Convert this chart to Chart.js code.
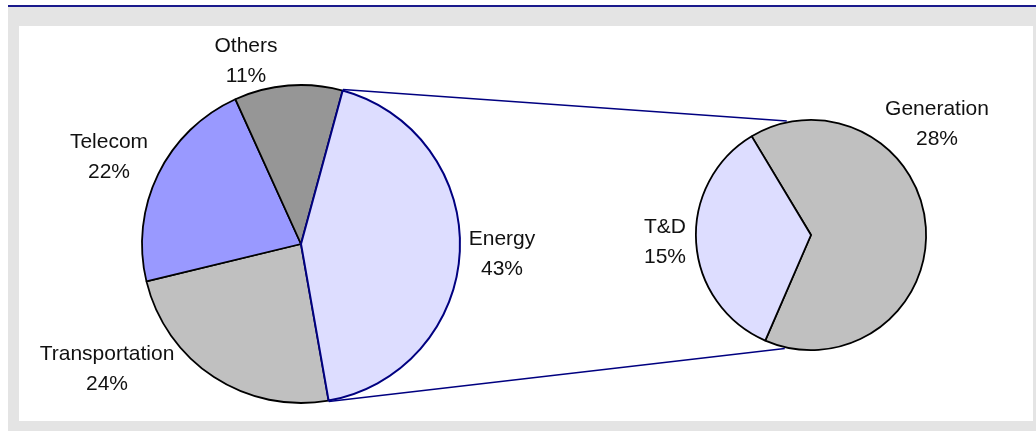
<!DOCTYPE html>
<html><head><meta charset="utf-8">
<script src="https://cdn.jsdelivr.net/npm/chart.js@4.4.0/dist/chart.umd.min.js"></script>
<style>
html,body{margin:0;padding:0;background:#fff;width:1036px;height:431px;overflow:hidden}
#frame{position:absolute;left:8px;top:7px;width:1028px;height:424px;background:#e4e4e4}
#topline{position:absolute;left:8px;top:5px;width:1028px;height:2px;background:#1a1a8c}
#plot{position:absolute;left:19px;top:26px;width:1014px;height:395px;background:#fff}
.layer{position:absolute;left:0;top:0;width:1036px;height:431px}
canvas{position:absolute;left:0;top:0}
</style></head>
<body>
<div id="frame"></div><div id="topline"></div><div id="plot"></div>
<div class="layer"><canvas id="main" width="1036" height="431"></canvas></div>
<div class="layer"><canvas id="sec" width="1036" height="431"></canvas></div>
<script>
// ---- data ----
const mainCategories = ['Transportation', 'Telecom', 'Others', 'Energy'];
const mainValues = [24, 22, 11, 43];
const splitCategory = 'Energy';
const secondaryCategories = ['Generation', 'T&D'];
const secondaryValues = [28, 15];

// ---- styles ----
const mainColors = ['#c0c0c0', '#9999ff', '#969696', '#ddddff'];
const mainBorders = ['#000000', '#000000', '#000000', '#000080'];
const mainBorderWidths = [1.8, 1.8, 1.8, 2];
const secColors = ['#c0c0c0', '#ddddff'];
const FONT = '21px "Liberation Sans", Arial, sans-serif';
const LINE_PITCH = 30;
// label anchor offsets from pie centre (first-line baseline)
const mainLabelOffsets = {
  'Transportation': [-194, 116],
  'Telecom': [-192, -96],
  'Others': [-55, -192],
  'Energy': [201, 1]
};
const secLabelOffsets = {
  'Generation': [126, -120],
  'T&D': [-146, -2]
};
// connector end angles on the secondary pie (degrees, canvas convention)
const connectorEndAngles = [-102, 103];

const total = mainValues.reduce((a, b) => a + b, 0);
const pct = v => Math.round(v / total * 100) + '%';

function labelPlugin(cats, vals, offsets) {
  return {
    id: 'pieLabels',
    afterDraw(chart) {
      const arc = chart.getDatasetMeta(0).data[0];
      const ctx = chart.ctx;
      ctx.save();
      ctx.font = FONT;
      ctx.fillStyle = '#111';
      ctx.textAlign = 'center';
      ctx.textBaseline = 'alphabetic';
      cats.forEach((c, i) => {
        const o = offsets[c];
        const x = arc.x + o[0], y = arc.y + o[1];
        ctx.fillText(c, x, y);
        ctx.fillText(pct(vals[i]), x, y + LINE_PITCH);
      });
      ctx.restore();
    }
  };
}

const mainChart = new Chart(document.getElementById('main'), {
  type: 'pie',
  data: {
    labels: mainCategories,
    datasets: [{
      data: mainValues,
      backgroundColor: mainColors,
      borderColor: mainBorders,
      borderWidth: mainBorderWidths
    }]
  },
  options: {
    responsive: false,
    animation: false,
    events: [],
    rotation: 170,
    layout: { padding: { left: 141, right: 575, top: 84, bottom: 27 } },
    plugins: { legend: { display: false }, tooltip: { enabled: false } }
  },
  plugins: [labelPlugin(mainCategories, mainValues, mainLabelOffsets)]
});

const connectorPlugin = {
  id: 'connectors',
  afterDraw(chart) {
    const mi = mainCategories.indexOf(splitCategory);
    const a = mainChart.getDatasetMeta(0).data[mi];
    const s = chart.getDatasetMeta(0).data[0];
    const R = a.outerRadius + 1;
    const starts = [
      [a.x + R * Math.cos(a.startAngle), a.y + R * Math.sin(a.startAngle)],
      [a.x + R * Math.cos(a.endAngle), a.y + R * Math.sin(a.endAngle)]
    ];
    const r = s.outerRadius + 1.5;
    const ctx = chart.ctx;
    ctx.save();
    ctx.strokeStyle = '#000080';
    ctx.lineWidth = 1.5;
    starts.forEach((p, i) => {
      const ang = connectorEndAngles[i] * Math.PI / 180;
      ctx.beginPath();
      ctx.moveTo(p[0], p[1]);
      ctx.lineTo(s.x + r * Math.cos(ang), s.y + r * Math.sin(ang));
      ctx.stroke();
    });
    ctx.restore();
  }
};

new Chart(document.getElementById('sec'), {
  type: 'pie',
  data: {
    labels: secondaryCategories,
    datasets: [{
      data: secondaryValues,
      backgroundColor: secColors,
      borderColor: '#000000',
      borderWidth: 1.8
    }]
  },
  options: {
    responsive: false,
    animation: false,
    events: [],
    rotation: -31,
    layout: { padding: { left: 695, right: 109, top: 119, bottom: 80 } },
    plugins: { legend: { display: false }, tooltip: { enabled: false } }
  },
  plugins: [connectorPlugin, labelPlugin(secondaryCategories, secondaryValues, secLabelOffsets)]
});
</script>
</body></html>
